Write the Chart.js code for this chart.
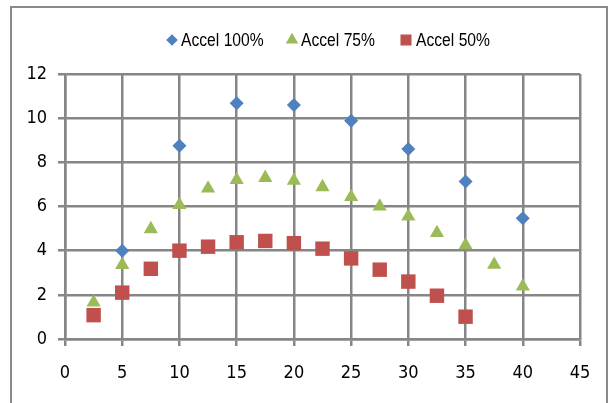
<!DOCTYPE html>
<html>
<head>
<meta charset="utf-8">
<script src="https://cdn.jsdelivr.net/npm/chart.js@4/dist/chart.umd.min.js"></script>
<style>
  html, body { margin: 0; padding: 0; background: #fff; overflow: hidden; }
  #wrap { position: relative; width: 612px; height: 403px; }
  #frame { position: absolute; left: 10px; top: 6px; width: 598px; height: 420px;
           border: 2px solid #8a8a8a; box-sizing: border-box; pointer-events: none; }
  canvas { position: absolute; left: 0; top: 0; }
</style>
</head>
<body>
<div id="wrap">
  <canvas id="c" width="612" height="403"></canvas>
  <div id="frame"></div>
</div>
<script>
// Acceleration curves at three throttle levels
const seriesNames = ['Accel 100%', 'Accel 75%', 'Accel 50%'];

const xAccel100 = [5, 10, 15, 20, 25, 30, 35, 40];
const yAccel100 = [4.0, 8.75, 10.68, 10.6, 9.88, 8.6, 7.13, 5.47];

const xAccel75 = [2.5, 5, 7.5, 10, 12.5, 15, 17.5, 20, 22.5, 25, 27.5, 30, 32.5, 35, 37.5, 40];
const yAccel75 = [1.66, 3.36, 4.98, 6.07, 6.82, 7.2, 7.3, 7.17, 6.88, 6.43, 6.0, 5.55, 4.8, 4.25, 3.37, 2.38];

const xAccel50 = [2.5, 5, 7.5, 10, 12.5, 15, 17.5, 20, 22.5, 25, 27.5, 30, 32.5, 35];
const yAccel50 = [1.08, 2.1, 3.18, 4.0, 4.18, 4.38, 4.44, 4.34, 4.09, 3.65, 3.14, 2.6, 1.96, 1.01];

const xTickMin = 0, xTickMax = 45, xTickStep = 5;
const yTickMin = 0, yTickMax = 12, yTickStep = 2;

const pts = (xs, ys) => xs.map((x, i) => ({ x: x, y: ys[i] }));

const FONT = "'DejaVu Sans Condensed', 'Liberation Sans', sans-serif";
const LEGEND_FONT = "'Liberation Sans', Arial, sans-serif";
const GRID = '#868686';

// Legend drawn in the top band, using the same point styles as the datasets
const topLegend = {
  id: 'topLegend',
  afterDraw(chart) {
    const ctx = chart.ctx;
    const items = [
      { mx: 172, tx: 181, r: 5.8 },
      { mx: 292, tx: 301, r: 7.2 },
      { mx: 406, tx: 416, r: 7.8 }
    ];
    const cy = 40;
    ctx.save();
    chart.data.datasets.forEach((ds, i) => {
      const it = items[i];
      ctx.fillStyle = ds.backgroundColor;
      ctx.strokeStyle = ds.backgroundColor;
      Chart.helpers.drawPoint(ctx, { pointStyle: ds.pointStyle, radius: it.r, rotation: 0, borderWidth: 0 }, it.mx, cy);
      ctx.save();
      ctx.translate(it.tx, cy + 1);
      ctx.scale(0.87, 1);
      ctx.fillStyle = '#000';
      ctx.font = '18px ' + LEGEND_FONT;
      ctx.textBaseline = 'middle';
      ctx.textAlign = 'left';
      ctx.fillText(ds.label, 0, 0);
      ctx.restore();
    });
    ctx.restore();
  }
};

new Chart(document.getElementById('c'), {
  type: 'scatter',
  data: {
    datasets: [
      { label: seriesNames[0], data: pts(xAccel100, yAccel100), pointStyle: 'rectRot',
        backgroundColor: '#4F81BD', borderColor: '#4F81BD', borderWidth: 0, pointRadius: 7, pointHoverRadius: 7 },
      { label: seriesNames[1], data: pts(xAccel75, yAccel75), pointStyle: 'triangle',
        backgroundColor: '#9BBB59', borderColor: '#9BBB59', borderWidth: 0, pointRadius: 8.2, pointHoverRadius: 8.2 },
      { label: seriesNames[2], data: pts(xAccel50, yAccel50), pointStyle: 'rect',
        backgroundColor: '#C0504D', borderColor: '#C0504D', borderWidth: 0, pointRadius: 10.2, pointHoverRadius: 10.2 }
    ]
  },
  options: {
    responsive: false,
    animation: false,
    devicePixelRatio: 1,
    layout: { padding: { left: 0, right: 32, top: 74, bottom: 0 } },
    plugins: { legend: { display: false }, tooltip: { enabled: false } },
    scales: {
      x: {
        type: 'linear', min: xTickMin, max: xTickMax,
        ticks: { stepSize: xTickStep, color: '#000', font: { family: FONT, size: 18 }, padding: 17, maxRotation: 0 },
        grid: { color: GRID, lineWidth: 2.5, tickLength: 7, tickColor: GRID },
        border: { color: GRID, width: 2.5 },
        afterFit(scale) { scale.height = 64; }
      },
      y: {
        type: 'linear', min: yTickMin, max: yTickMax,
        ticks: { stepSize: yTickStep, color: '#000', font: { family: FONT, size: 18 }, padding: 11 },
        grid: { color: GRID, lineWidth: 2.5, tickLength: 7, tickColor: GRID },
        border: { color: GRID, width: 2.5 },
        afterFit(scale) { scale.width = 65; }
      }
    }
  },
  plugins: [topLegend]
});
</script>
</body>
</html>
